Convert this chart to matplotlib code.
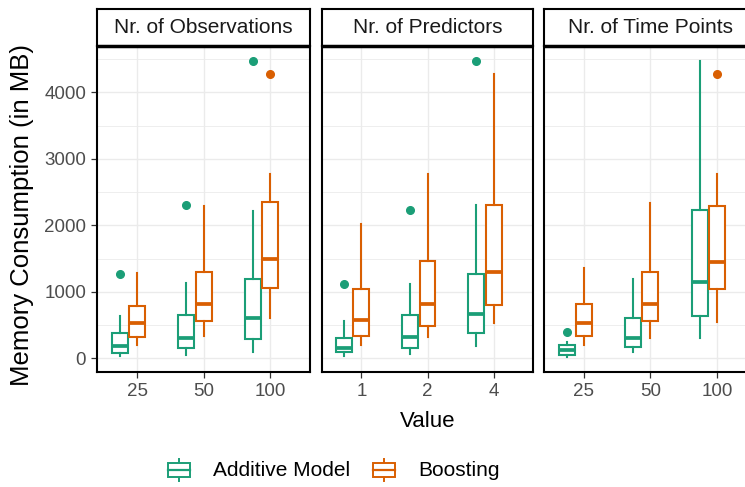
import matplotlib
matplotlib.use("Agg")
import matplotlib.pyplot as plt
from matplotlib.legend_handler import HandlerBase
from matplotlib.patches import Patch, Rectangle
from matplotlib.lines import Line2D

plt.rcParams.update({
    "font.family": ["Liberation Sans", "DejaVu Sans"],
})

# ---------------------------------------------------------------------------
# Data: [whisker low, q1, median, q3, whisker high]
# ---------------------------------------------------------------------------

panel_titles = ["Nr. of Observations", "Nr. of Predictors", "Nr. of Time Points"]
obs_labels = ["25", "50", "100"]
pred_labels = ["1", "2", "4"]
time_labels = ["25", "50", "100"]
models = ["Additive Model", "Boosting"]

add_obs = [[40, 75, 190, 375, 640], [55, 155, 305, 655, 1140], [90, 290, 605, 1200, 2215]]
add_obs_out = [[1265], [2305], [4475]]
boost_obs = [[205, 315, 525, 785, 1290], [340, 555, 815, 1300, 2290], [605, 1065, 1500, 2350, 2765]]
boost_obs_out = [[], [], [4280]]

add_pred = [[40, 90, 150, 300, 565], [65, 155, 315, 650, 1125], [190, 375, 665, 1265, 2300]]
add_pred_out = [[1125], [2225], [4475]]
boost_pred = [[205, 340, 575, 1050, 2015], [315, 490, 815, 1465, 2765], [525, 805, 1300, 2300, 4275]]
boost_pred_out = [[], [], []]

add_time = [[20, 50, 125, 200, 240], [90, 165, 305, 600, 1190], [305, 640, 1150, 2225, 4475]]
add_time_out = [[400], [], []]
boost_time = [[205, 330, 525, 815, 1365], [305, 565, 815, 1300, 2340], [550, 1040, 1455, 2290, 2765]]
boost_time_out = [[], [], [4280]]

colors = {"Additive Model": "#1B9E77", "Boosting": "#D95F02"}

panels = [
    (obs_labels, add_obs, add_obs_out, boost_obs, boost_obs_out),
    (pred_labels, add_pred, add_pred_out, boost_pred, boost_pred_out),
    (time_labels, add_time, add_time_out, boost_time, boost_time_out),
]

# ---------------------------------------------------------------------------
# Layout in pixels
# ---------------------------------------------------------------------------

W, H = 745, 487
panel_x = [(97.3, 310.0), (321.7, 533.3), (544.0, 756.7)]
panel_top, panel_bot = 45.5, 371.5
strip_top = 9.0


def rect(x0, y0, x1, y1):
    return [x0 / W, 1 - y1 / H, (x1 - x0) / W, (y1 - y0) / H]


def to_stats(five, out):
    lo, q1, med, q3, hi = five
    return dict(whislo=lo, q1=q1, med=med, q3=q3, whishi=hi, fliers=out)


fig = plt.figure(figsize=(W / 100, H / 100), dpi=100)

for i, (x0, x1) in enumerate(panel_x):
    labels, add, add_out, boost, boost_out = panels[i]
    ax = fig.add_axes(rect(x0, panel_top, x1, panel_bot))
    ax.set_xlim(0.4, 3.6)
    ax.set_ylim(-198, 4704)
    ax.set_axisbelow(True)

    cats = list(range(1, len(labels) + 1))
    for name, data, outs, shift in [("Additive Model", add, add_out, -0.26),
                                    ("Boosting", boost, boost_out, 0.0)]:
        c = colors[name]
        stats = [to_stats(d, o) for d, o in zip(data, outs)]
        ax.bxp(stats, positions=[p + shift for p in cats], widths=0.24,
               showcaps=False, patch_artist=True,
               boxprops=dict(facecolor="white", edgecolor=c, linewidth=1.5),
               whiskerprops=dict(color=c, linewidth=1.5),
               medianprops=dict(color=c, linewidth=2.7, solid_capstyle="butt"),
               flierprops=dict(marker="o", markerfacecolor=c, markeredgecolor=c,
                               markersize=5.5))

    ax.set_xticks(cats)
    ax.set_xticklabels(labels)
    ax.set_yticks([0, 1000, 2000, 3000, 4000])
    ax.set_yticks([500, 1500, 2500, 3500, 4500], minor=True)
    ax.grid(True, which="major", color="#EBEBEB", linewidth=1.0)
    ax.grid(True, which="minor", axis="y", color="#EBEBEB", linewidth=0.6)
    ax.tick_params(which="minor", length=0)
    ax.tick_params(which="major", length=4, width=0.9, color="#333333",
                   labelcolor="#4D4D4D", labelsize=13.5)
    ax.tick_params(axis="x", pad=4)
    ax.tick_params(axis="y", pad=4)
    if i > 0:
        ax.tick_params(axis="y", labelleft=False, length=0)
    for s in ax.spines.values():
        s.set_linewidth(1.5)
        s.set_color("black")

    # facet strip
    st = fig.add_axes(rect(x0, strip_top, x1, panel_top))
    st.set_xticks([])
    st.set_yticks([])
    st.set_facecolor("white")
    for s in st.spines.values():
        s.set_linewidth(1.5)
        s.set_color("black")
    st.spines["bottom"].set_linewidth(2.5)
    st.spines["bottom"].set_capstyle("butt")
    st.text(0.5, 0.5, panel_titles[i], ha="center", va="center",
            fontsize=15, color="#1A1A1A", transform=st.transAxes)

fig.text(22 / W, 1 - 215 / H, "Memory Consumption (in MB)", rotation=90,
         ha="center", va="center", fontsize=18.5, color="black")
fig.text(428 / W, 1 - 427 / H, "Value", ha="center", va="baseline",
         fontsize=16, color="black")


# ---------------------------------------------------------------------------
# Legend with box-shaped keys
# ---------------------------------------------------------------------------

class BoxKey(HandlerBase):
    def create_artists(self, legend, orig_handle, xdescent, ydescent,
                       width, height, fontsize, trans):
        c = orig_handle.get_edgecolor()
        bx0, bx1 = 0.08 * width - xdescent, 0.92 * width - xdescent
        by0, by1 = 0.05 * height - ydescent, 0.85 * height - ydescent
        cx = 0.5 * width - xdescent
        box = Rectangle((bx0, by0), bx1 - bx0, by1 - by0, facecolor="white",
                        edgecolor=c, linewidth=1.4, transform=trans)
        med = Line2D([bx0, bx1], [(by0 + by1) / 2] * 2, color=c, linewidth=1.6,
                     transform=trans)
        top = Line2D([cx, cx], [by1, 1.05 * height - ydescent], color=c,
                     linewidth=1.4, transform=trans)
        bot = Line2D([cx, cx], [-0.15 * height - ydescent, by0], color=c,
                     linewidth=1.4, transform=trans)
        return [top, bot, box, med]


handles = [Patch(edgecolor=colors[m], facecolor="white") for m in models]
fig.legend(handles, models, loc="center", bbox_to_anchor=(333 / W, 1 - 470 / H),
           ncol=2, frameon=False, fontsize=15, handlelength=1.25,
           handleheight=1.0, handletextpad=1.0, columnspacing=1.0,
           handler_map={Patch: BoxKey()})

fig.savefig("out.png", dpi=100)
